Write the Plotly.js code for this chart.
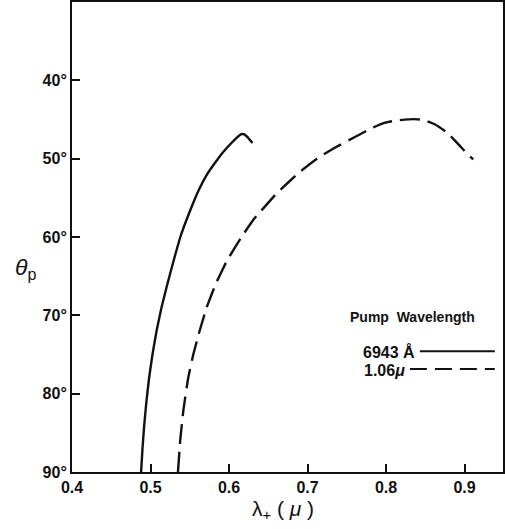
<!DOCTYPE html>
<html>
<head>
<meta charset="utf-8">
<script src="https://cdn.plot.ly/plotly-3.0.1.min.js"></script>
<style>html,body{margin:0;padding:0;background:#fff;}#chart{width:505px;height:529px;}</style>
</head>
<body>
<div id="chart"></div>
<script>
// Pump 6943 Å (solid)
var ruby_lambda = [0.4880, 0.4898, 0.4920, 0.4948, 0.4982, 0.5025, 0.5077, 0.5140, 0.5215, 0.5295, 0.5380, 0.5490, 0.5615, 0.5720, 0.5860, 0.5940, 0.6030, 0.6090, 0.6135, 0.6165, 0.6195, 0.6230, 0.6265, 0.6300];
var ruby_theta  = [90.0, 87.0, 84.0, 81.0, 78.0, 75.0, 72.0, 69.0, 66.0, 63.0, 60.0, 57.0, 54.0, 52.0, 50.0, 49.0, 48.0, 47.4, 47.0, 46.85, 46.9, 47.2, 47.6, 48.0];
// Pump 1.06 μ (dashed)
var yag_lambda = [0.5350, 0.5378, 0.5420, 0.5480, 0.5545, 0.5625, 0.5715, 0.5830, 0.5975, 0.6160, 0.6310, 0.6610, 0.6900, 0.7120, 0.7330, 0.7610, 0.7840, 0.7990, 0.8150, 0.8350, 0.8480, 0.8620, 0.8770, 0.8860, 0.8980, 0.9110];
var yag_theta  = [90.0, 86.0, 82.0, 78.0, 75.0, 72.0, 69.0, 66.0, 63.0, 60.0, 57.8, 54.4, 51.7, 50.0, 48.7, 47.2, 46.0, 45.4, 45.1, 44.95, 45.06, 45.6, 46.6, 47.5, 48.8, 50.1];

var xTicks = [0.4, 0.5, 0.6, 0.7, 0.8, 0.9];
var xTickText = ['0.4', '0.5', '0.6', '0.7', '0.8', '0.9'];
var yTicks = [40, 50, 60, 70, 80, 90];
var yTickText = ['40°', '50°', '60°', '70°', '80°', '90°'];

var fontFam = 'Liberation Sans, Arial, sans-serif';
var ink = '#111';

var traces = [
  {x: ruby_lambda, y: ruby_theta, mode: 'lines', line: {color: ink, width: 2.4, shape: 'spline', smoothing: 0.3}, hoverinfo: 'skip', showlegend: false},
  {x: yag_lambda, y: yag_theta, mode: 'lines', line: {color: ink, width: 2.4, dash: '20px,8px', shape: 'spline', smoothing: 0.3}, hoverinfo: 'skip', showlegend: false}
];

var tf = {family: fontFam, size: 16, color: ink, weight: 'bold'};

var layout = {
  width: 505, height: 529,
  margin: {l: 72, r: 2, t: 2, b: 57},
  paper_bgcolor: '#fff', plot_bgcolor: '#fff',
  showlegend: false,
  xaxis: {
    range: [0.4, 0.949], tickvals: xTicks, ticktext: xTickText,
    ticks: 'inside', ticklen: 8, tickwidth: 2, tickcolor: ink,
    showline: true, linewidth: 2, linecolor: ink, mirror: true,
    showgrid: false, zeroline: false, tickfont: tf
  },
  yaxis: {
    range: [90, 30], tickvals: yTicks, ticktext: yTickText,
    ticks: 'inside', ticklen: 8, tickwidth: 2, tickcolor: ink,
    showline: true, linewidth: 2, linecolor: ink, mirror: true,
    showgrid: false, zeroline: false, tickfont: tf
  },
  annotations: [
    {xref: 'paper', yref: 'paper', x: 0.49, y: -0.081, xanchor: 'center', yanchor: 'middle', showarrow: false,
     text: 'λ<sub>+</sub> ( <i>μ</i> )', font: {family: fontFam, size: 21, color: ink}},
    {xref: 'paper', yref: 'paper', x: -0.109, y: 0.434, xanchor: 'center', yanchor: 'middle', showarrow: false,
     text: '<i>θ</i><sub>p</sub>', font: {family: fontFam, size: 23, color: ink}},
    {xref: 'paper', yref: 'paper', x: 0.789, y: 0.330, xanchor: 'center', yanchor: 'middle', showarrow: false,
     text: 'Pump  Wavelength', font: {family: fontFam, size: 14, color: ink, weight: 'bold'}},
    {xref: 'paper', yref: 'paper', x: 0.800, y: 0.255, xanchor: 'right', yanchor: 'middle', showarrow: false,
     text: '6943 Å', font: {family: fontFam, size: 16, color: ink, weight: 'bold'}},
    {xref: 'paper', yref: 'paper', x: 0.777, y: 0.217, xanchor: 'right', yanchor: 'middle', showarrow: false,
     text: '1.06<i>μ</i>', font: {family: fontFam, size: 16, color: ink, weight: 'bold'}}
  ],
  shapes: [
    {type: 'line', xref: 'paper', yref: 'paper', x0: 0.807, x1: 0.981, y0: 0.257, y1: 0.257, line: {color: ink, width: 2}},
    {type: 'line', xref: 'paper', yref: 'paper', x0: 0.784, x1: 0.981, y0: 0.219, y1: 0.219, line: {color: ink, width: 2, dash: '17px,8px'}}
  ]
};

Plotly.newPlot('chart', traces, layout, {staticPlot: true, displayModeBar: false});
</script>
</body>
</html>
